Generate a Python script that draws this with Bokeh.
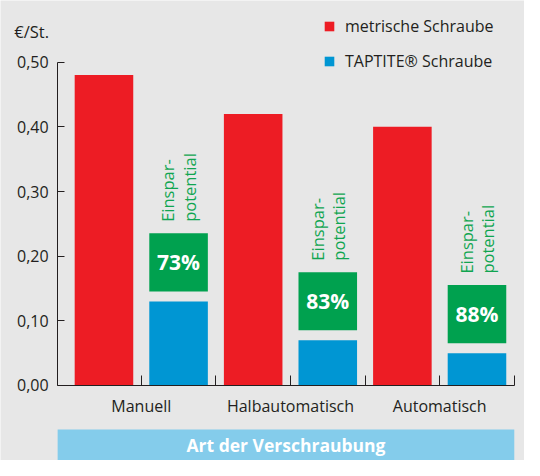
import math
from bokeh.plotting import figure
from bokeh.models import (Range1d, FixedTicker, BoxAnnotation, Label, Legend, LegendItem,
                          ColumnDataSource, LinearAxis)
from bokeh.core.properties import value
from bokeh.embed import file_html
from bokeh.resources import INLINE

# ---- data ----
categories = ["Manuell", "Halbautomatisch", "Automatisch"]
metrisch = [0.48, 0.42, 0.40]
taptite = [0.13, 0.07, 0.05]
savings = ["73%", "83%", "88%"]
series_names = ["metrische Schraube", "TAPTITE\u00ae Schraube"]
y_ticks = [0.0, 0.1, 0.2, 0.3, 0.4, 0.5]
y_tick_labels = ["0,00", "0,10", "0,20", "0,30", "0,40", "0,50"]
y_unit = "\u20ac/St."
x_title = "Art der Verschraubung"
note = "Einspar-\npotential"

# ---- style ----
FONT = "Open Sans"
BG = "#E7E7E7"
RED = "#ED1C24"
BLUE = "#0096D3"
GREEN = "#00A14F"
GREEN_TXT = "#10A550"
BAND = "#84CCEB"
INK = "#231F20"

n = len(categories)
red_x = [2 * i + 0.5 for i in range(n)]
blue_x = [2 * i + 1.5 for i in range(n)]
group_x = [2 * i + 1 for i in range(n)]
BW = 0.785
X0, X1 = -0.121, 6.0
Y0, Y1 = y_ticks[0], y_ticks[-1]

p = figure(width=524, height=460, output_backend="svg", toolbar_location=None,
           x_range=Range1d(-0.887, 6.137), y_range=Range1d(-0.116, 0.5954),
           x_axis_location=None, y_axis_location=None, min_border=0)
p.background_fill_color = BG
p.border_fill_color = BG
p.outline_line_color = None
p.grid.visible = False

src = ColumnDataSource(dict(rx=red_x, bx=blue_x, red=metrisch, blue=taptite))
r_red = p.vbar(x="rx", top="red", bottom=0, width=BW, source=src, fill_color=RED, line_color=None)
r_blue = p.vbar(x="bx", top="blue", bottom=0, width=BW, source=src, fill_color=BLUE, line_color=None)

# savings boxes above the TAPTITE bars
gap = 0.0155
hbox = 0.0898
box_bottom = [v + gap for v in taptite]
box_top = [b + hbox for b in box_bottom]
box_mid = [(a + b) / 2 for a, b in zip(box_bottom, box_top)]
p.vbar(x=blue_x, bottom=box_bottom, top=box_top, width=BW, fill_color=GREEN, line_color=None)
p.text(x=blue_x, y=box_mid, text=savings, text_color="white", text_font=value(FONT),
       text_font_style="bold", text_font_size="21px", text_align="center", text_baseline="middle")
p.text(x=blue_x, y=[t + 0.0178 for t in box_top], text=[note] * n, angle=math.pi / 2,
       text_color=GREEN_TXT, text_font=value(FONT), text_font_size="16.5px",
       text_align="left", text_baseline="middle", text_line_height=0.92)

# axes (drawn at fixed data locations)
xa = LinearAxis(fixed_location=0, bounds=(X0, X1))
xa.ticker = FixedTicker(ticks=group_x, minor_ticks=[2, 4, 6])
xa.major_label_overrides = {gx: c for gx, c in zip(group_x, categories)}
xa.major_tick_in = 10
xa.major_tick_out = 0
xa.minor_tick_in = 10
xa.minor_tick_out = 0
xa.axis_line_color = INK
xa.major_tick_line_color = INK
xa.minor_tick_line_color = INK
xa.major_label_text_font = FONT
xa.major_label_text_font_size = "16px"
xa.major_label_text_color = INK
xa.major_label_standoff = 10
p.add_layout(xa, "below")

ya = LinearAxis(fixed_location=X0, bounds=(Y0, Y1))
ya.ticker = FixedTicker(ticks=y_ticks)
ya.major_label_overrides = {t: l for t, l in zip(y_ticks, y_tick_labels)}
ya.major_tick_in = 7
ya.major_tick_out = 0
ya.minor_tick_line_color = None
ya.axis_line_color = INK
ya.major_tick_line_color = INK
ya.major_label_text_font = FONT
ya.major_label_text_font_size = "16px"
ya.major_label_text_color = INK
ya.major_label_standoff = 9
p.add_layout(ya, "left")

# unit label
p.add_layout(Label(x=-0.702, y=0.5475, text=y_unit, text_font=FONT, text_font_size="16.5px",
                   text_color=INK, text_align="left", text_baseline="middle"))

# band with axis title
p.add_layout(BoxAnnotation(left=X0, right=X1, top=-0.068, bottom=-0.116,
                           fill_color=BAND, fill_alpha=1.0, line_color=None))
p.add_layout(Label(x=(X0 + X1) / 2, y=-0.092, text=x_title, text_font=FONT, text_font_size="17.5px",
                   text_font_style="bold", text_color="white", text_align="center",
                   text_baseline="middle"))

legend = Legend(items=[LegendItem(label=series_names[0], renderers=[r_red]),
                       LegendItem(label=series_names[1], renderers=[r_blue])],
                location=(323, 388), orientation="vertical",
                glyph_width=12, glyph_height=12, label_standoff=10, spacing=13,
                padding=0, margin=0, border_line_color=None, background_fill_alpha=0,
                label_text_font=FONT, label_text_font_size="16px", label_text_color=INK,
                label_height=12)
p.add_layout(legend)

open("out.html", "w").write(file_html(p, INLINE))
